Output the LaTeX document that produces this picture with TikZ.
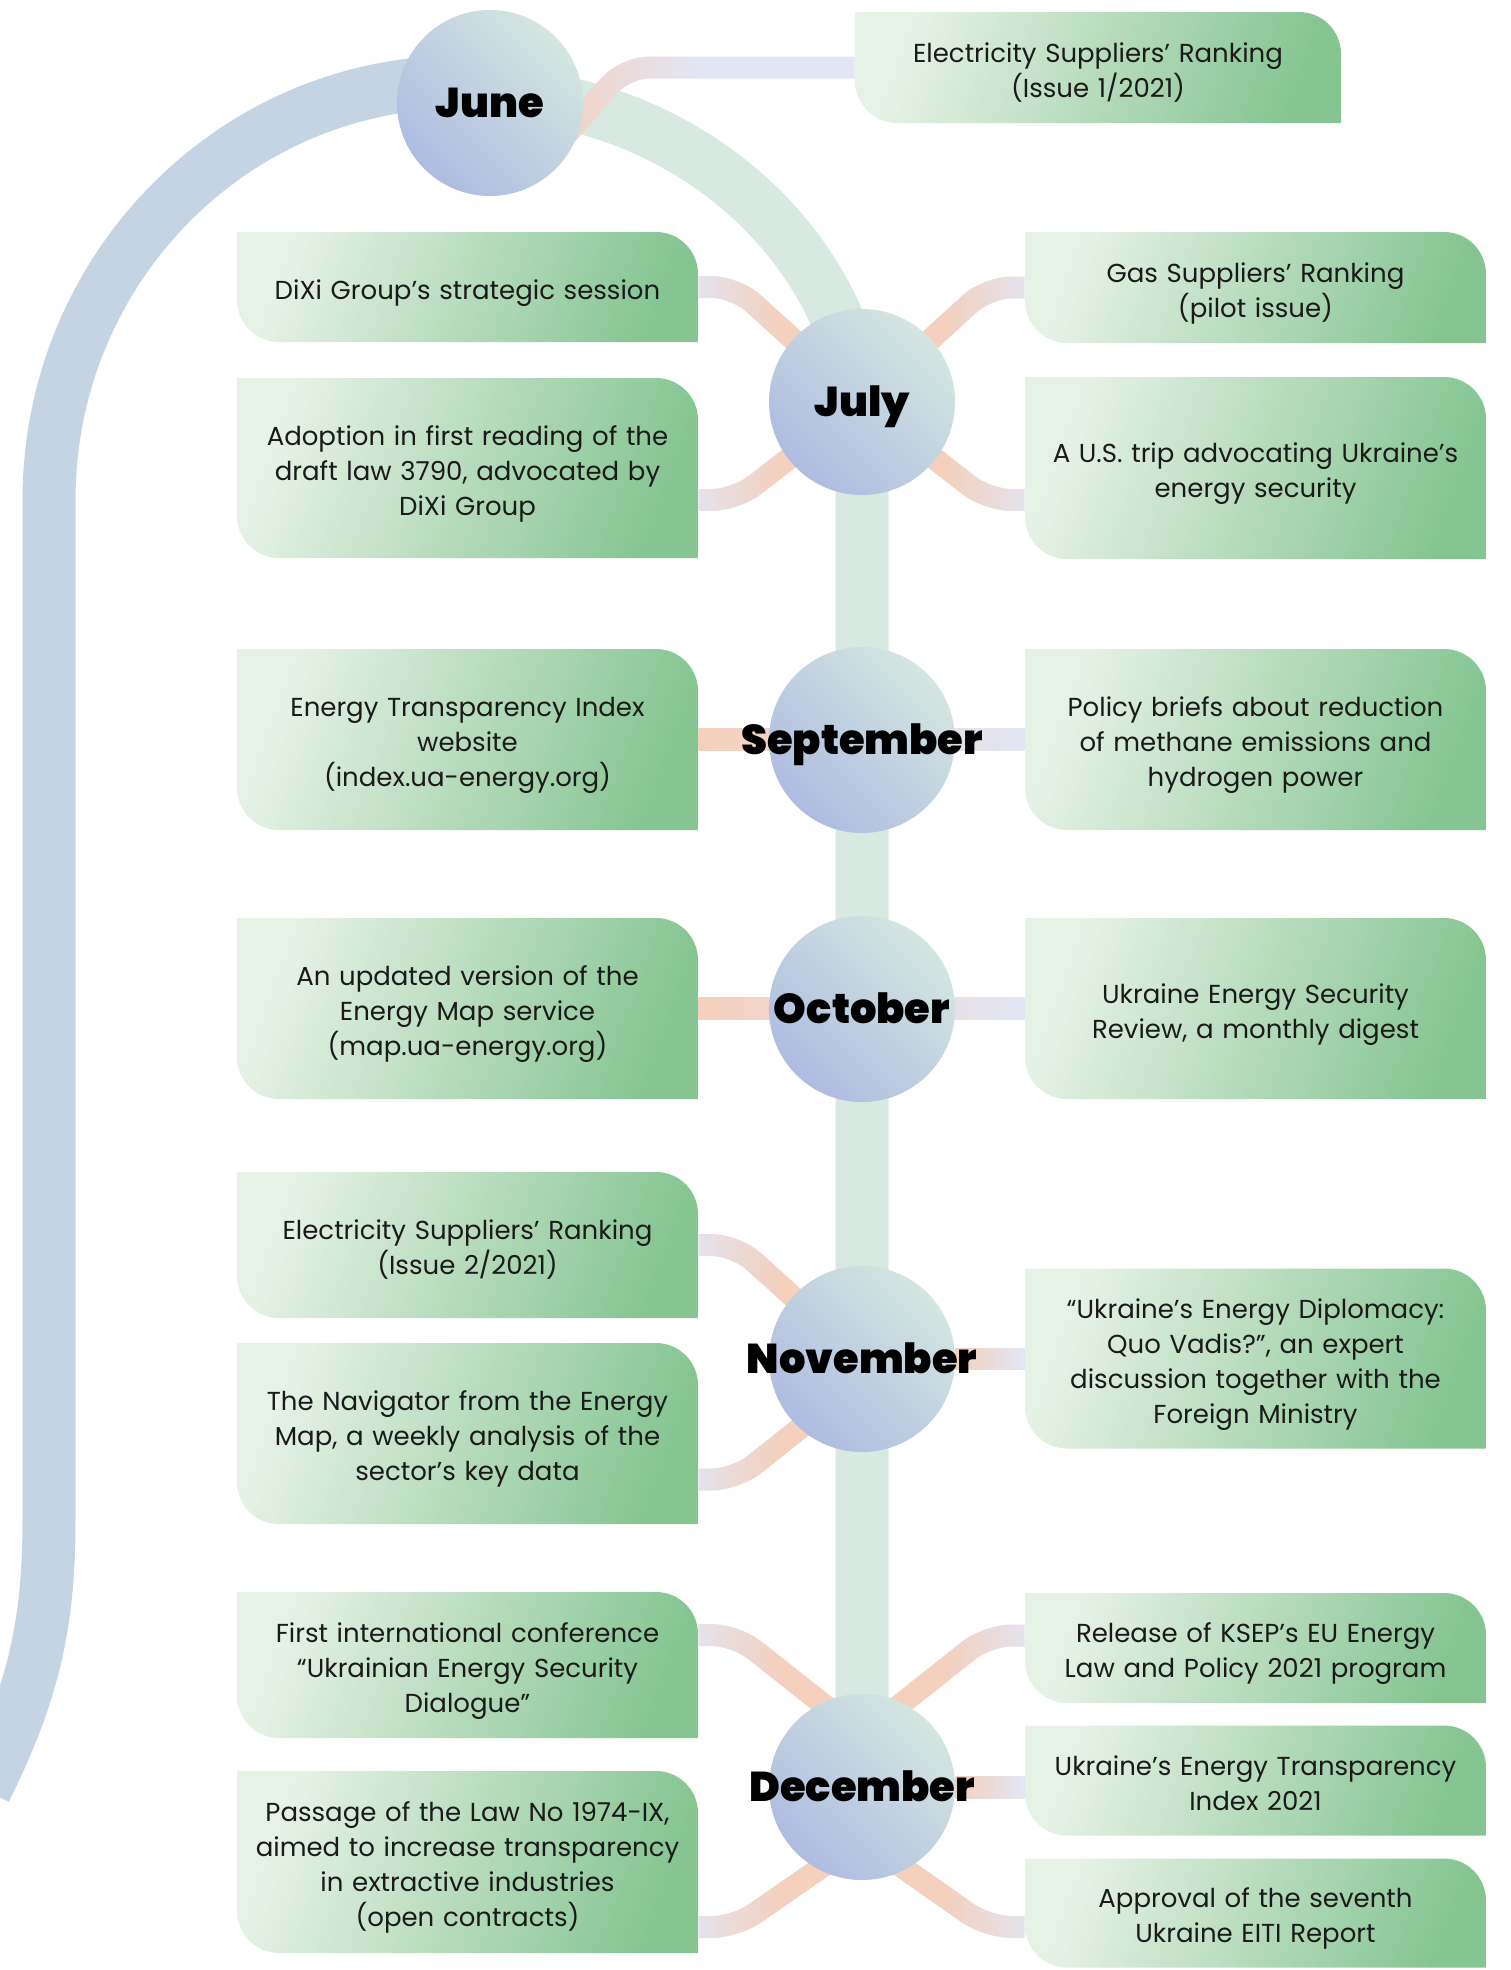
\documentclass[tikz,border=0pt]{standalone}
\usepackage{fontspec}
\setmainfont{Poppins}
\newfontfamily\monthfont{Poppins Black}
\usetikzlibrary{fadings,backgrounds}

\definecolor{boxlight}{HTML}{E7F2E7}
\definecolor{boxdark}{HTML}{86C592}
\definecolor{circlight}{HTML}{D4E6E0}
\definecolor{circdark}{HTML}{ADBCE1}
\definecolor{archblue}{HTML}{C4D4E2}
\definecolor{archgreen}{HTML}{D7E9E0}
\definecolor{linkpeach}{HTML}{F5D0BD}
\definecolor{linklav}{HTML}{E2E6F4}
\definecolor{ink}{HTML}{1A1A1A}

\tikzfading[name=linkin, left color=transparent!100, right color=transparent!0, middle color=transparent!0]
\tikzfading[name=linkout, left color=transparent!0, right color=transparent!100, middle color=transparent!0]
\tikzfading[name=linkfar, left color=transparent!0, right color=transparent!100, middle color=transparent!100]

\tikzset{
  month/.style={circle, minimum size=93pt, inner sep=0pt, top color=circlight, bottom color=circdark, shading angle=-45},
  monthlbl/.style={font=\monthfont\fontsize{20.8}{20.8}\selectfont, text=black, inner sep=0pt, text height=14.6pt, text depth=0pt},
  event/.style={rectangle, inner sep=0pt, minimum width=230.5pt, minimum height=#1, text width=225pt, align=center, text=ink,
    font=\fontsize{13}{17.5}\selectfont,
    execute at begin node={\rule{0pt}{16.1pt}}, execute at end node={\rule[-4pt]{0pt}{0pt}},
    path picture={
      \shade[left color=boxlight, right color=boxdark, shading angle=70]
        ([xshift=21pt]path picture bounding box.south west)
        -- (path picture bounding box.south east)
        -- ([yshift=-21pt]path picture bounding box.north east)
        arc[start angle=0, end angle=90, radius=21pt]
        -- (path picture bounding box.north west)
        -- ([yshift=21pt]path picture bounding box.south west)
        arc[start angle=180, end angle=270, radius=21pt]
        -- cycle;}},
  link/.style={line width=11pt, draw=linklav, rounded corners=12pt},
  glow/.style={line width=11pt, draw=linkpeach, rounded corners=12pt, path fading=#1},
  arch/.style={line width=26.5pt, draw=#1},
}
\newcommand\linkpath[2]{\draw[link] #2; \draw[glow=#1] #2;}

\begin{document}
\begin{tikzpicture}[x=0.5pt, y=-0.5pt]
\useasboundingbox (0,0) rectangle (1510,1970);

% months
\node[month, label={[monthlbl]center:June}] (jun) at (490,103) {};
\node[month, label={[monthlbl]center:July}] (jul) at (862,402) {};
\node[month, label={[monthlbl]center:September}] (sep) at (862,740) {};
\node[month, label={[monthlbl]center:October}] (oct) at (862,1009) {};
\node[month, label={[monthlbl]center:November}] (nov) at (862,1359) {};
\node[month, label={[monthlbl]center:December}] (dec) at (862,1787) {};

% events, top
\node[event=55.5pt, minimum width=243pt] (esrone) at (1098,67.5) {Electricity Suppliers’ Ranking\\(Issue 1/2021)};

% events, left
\node[event=55pt] (dixi) at (467.5,287) {DiXi Group’s strategic session};
\node[event=90pt] (adopt) at (467.5,468) {Adoption in first reading of the\\draft law 3790, advocated by\\DiXi Group};
\node[event=90.5pt] (etiweb) at (467.5,739.5) {Energy Transparency Index\\website\\(index.ua-energy.org)};
\node[event=90.5pt] (emap) at (467.5,1008.5) {An updated version of the\\Energy Map service\\(map.ua-energy.org)};
\node[event=73pt] (esrtwo) at (467.5,1245) {Electricity Suppliers’ Ranking\\(Issue 2/2021)};
\node[event=90.5pt] (navig) at (467.5,1433.5) {The Navigator from the Energy\\Map, a weekly analysis of the\\sector’s key data};
\node[event=73pt] (confer) at (467.5,1665) {First international conference\\“Ukrainian Energy Security\\Dialogue”};
\node[event=91pt] (lawpass) at (467.5,1862) {Passage of the Law No 1974-IX,\\aimed to increase transparency\\in extractive industries\\(open contracts)};

% events, right
\node[event=55.5pt] (gsr) at (1255.5,287.5) {Gas Suppliers’ Ranking\\(pilot issue)};
\node[event=91pt] (ustrip) at (1255.5,468) {A U.S. trip advocating Ukraine’s\\energy security};
\node[event=90.5pt] (briefs) at (1255.5,739.5) {Policy briefs about reduction\\of methane emissions and\\hydrogen power};
\node[event=90.5pt] (uesr) at (1255.5,1008.5) {Ukraine Energy Security\\Review, a monthly digest};
\node[event=90pt] (diplo) at (1255.5,1358.5) {“Ukraine’s Energy Diplomacy:\\Quo Vadis?”, an expert\\discussion together with the\\Foreign Ministry};
\node[event=55pt] (ksep) at (1255.5,1648) {Release of KSEP’s EU Energy\\Law and Policy 2021 program};
\node[event=55pt] (etitwo) at (1255.5,1780.5) {Ukraine’s Energy Transparency\\Index 2021};
\node[event=54.5pt] (eiti) at (1255.5,1913) {Approval of the seventh\\Ukraine EITI Report};

\begin{scope}[on background layer]
\clip (0,0) rectangle (1510,1970);
% arches and trunk
\draw[arch=archblue] ([yshift=10.5pt]jun.center) -- (460,82) .. controls (233,82) and (49,269) .. (49,500)
  -- (49,1520) .. controls (49,1620) and (35,1690) .. (-15,1790);
\draw[arch=archgreen] ([yshift=4pt]jun.center) .. controls (650,95) and (830,210) .. (jul.center) -- (dec.center);

% links
\linkpath{linkfar}{([shift={(57,54)}]jun.center) -- (esrone.west -| 625,0) -- (esrone.west)}
\linkpath{linkin}{(dixi.east) -- ++(37,0) -- (jul.center)}
\linkpath{linkin}{([yshift=-16pt]adopt.east) -- ++(37,0) -- (jul.center)}
\linkpath{linkout}{(gsr.west) -- ++(-37,0) -- (jul.center)}
\linkpath{linkout}{([yshift=-16pt]ustrip.west) -- ++(-37,0) -- (jul.center)}
\shade[left color=linkpeach, right color=linklav, middle color=linkpeach!55!linklav]
  ([yshift=5.5pt]etiweb.east) rectangle ([yshift=-5.5pt]briefs.west);
\shade[left color=linkpeach, right color=linklav, middle color=linkpeach!55!linklav]
  ([yshift=5.5pt]emap.east) rectangle ([yshift=-5.5pt]uesr.west);
\linkpath{linkin}{(esrtwo.east) -- ++(37,0) -- (nov.center)}
\linkpath{linkin}{([yshift=-23pt]navig.east) -- ++(37,0) -- ([yshift=-10pt]nov.center)}
\shade[left color=linkpeach, right color=linklav]
  ([yshift=5.5pt]nov.east) rectangle ([yshift=-5.5pt]diplo.west);
\linkpath{linkin}{([yshift=15pt]confer.east) -- ++(37,0) -- ([yshift=26pt]dec.center)}
\linkpath{linkin}{([yshift=-32.5pt]lawpass.east) -- ++(37,0) -- ([yshift=-26pt]dec.center)}
\linkpath{linkout}{([yshift=6.25pt]ksep.west) -- ++(-37,0) -- ([yshift=26pt]dec.center)}
\shade[left color=linkpeach, right color=linklav]
  ([yshift=5.5pt]dec.east) rectangle ([yshift=-5.5pt]dec.east -| etitwo.west);
\linkpath{linkout}{([yshift=-7pt]eiti.west) -- ++(-37,0) -- ([yshift=-26pt]dec.center)}
\end{scope}
\end{tikzpicture}
\end{document}
